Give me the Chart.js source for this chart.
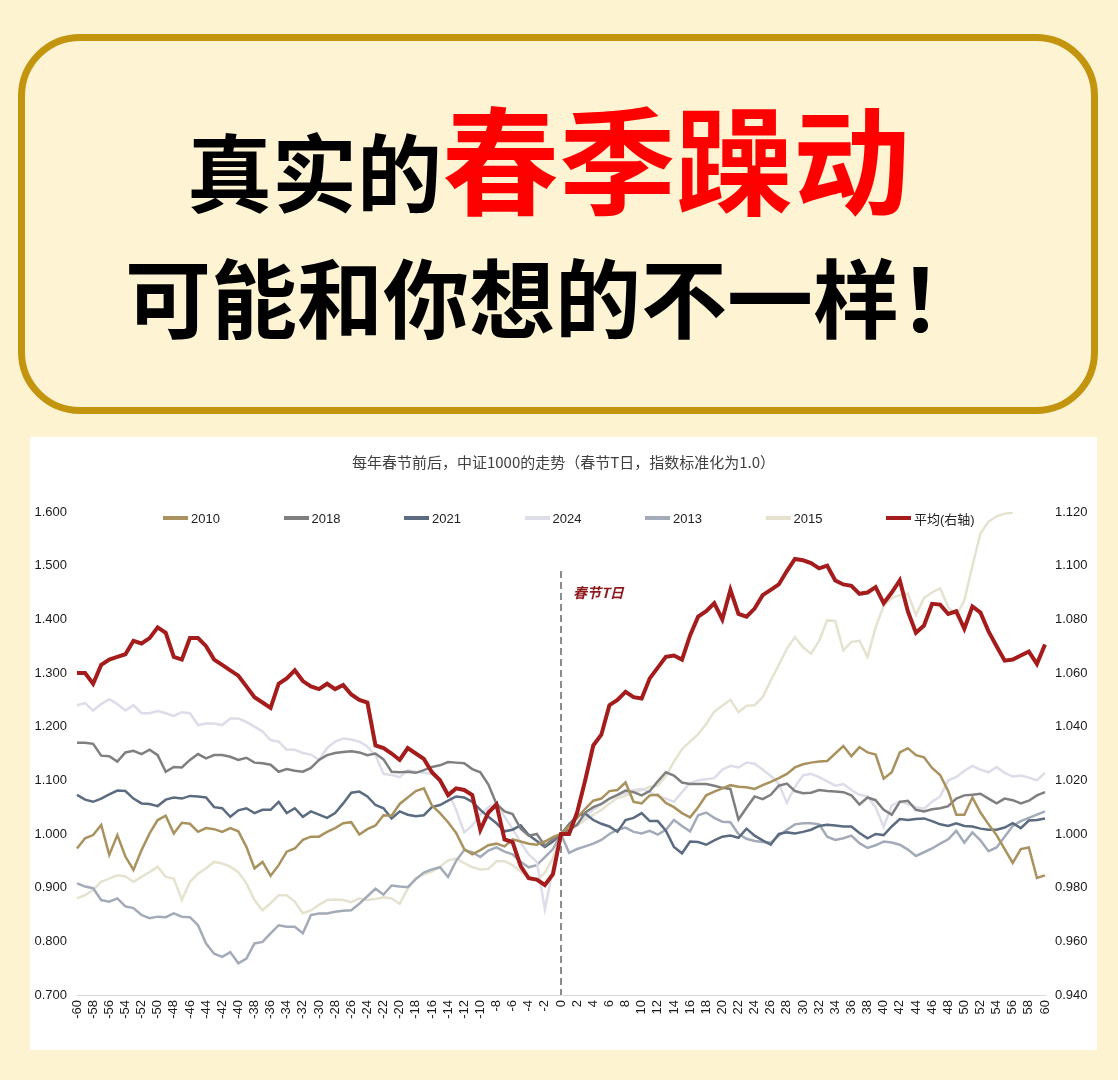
<!DOCTYPE html>
<html>
<head>
<meta charset="utf-8">
<title>真实的春季躁动</title>
<script src="https://cdn.jsdelivr.net/npm/chart.js@4.4.1/dist/chart.umd.min.js"></script>
<style>
    body {
        margin: 0;
        width: 1118px;
        height: 1080px;
        position: relative;
        overflow: hidden;
        background: #fdf3d1;
        font-family: "Noto Sans CJK SC", sans-serif;
    }
    .banner {
        position: absolute;
        left: 18px;
        top: 34px;
        width: 1066px;
        height: 366px;
        border: 7px solid #c3950f;
        border-radius: 62px;
        background: #fef4d4;
    }
    .line1, .line2 {
        position: absolute;
        white-space: nowrap;
        line-height: 1;
        font-weight: 700;
        color: #000;
    }
    .line1 { left: 187px; top: 97px; font-size: 117px; }
    .line1 .black { font-size: 85px; }
    .line1 .red { color: #ff0000; }
    .line2 { left: 125px; top: 252px; font-size: 86px; }

    .panel {
        position: absolute;
        left: 30px;
        top: 437px;
        width: 1067px;
        height: 613px;
        background: #ffffff;
    }
    #legend {
        position: absolute;
        left: 133px;
        top: 72px;
        height: 18px;
        display: flex;
        align-items: center;
    }
    #legend .item {
        width: 120.5px;
        display: flex;
        align-items: center;
        font-family: "Liberation Sans", Arial, "Noto Sans CJK SC", sans-serif;
        font-size: 13px;
        color: #222;
    }
    #legend .swatch {
        display: inline-block;
        width: 25px;
        height: 3.5px;
        margin-right: 3px;
    }
</style>
</head>
<body>
    <div class="banner"></div>
    <div class="line1"><span class="black">真实的</span><span class="red">春季躁动</span></div>
    <div class="line2">可能和你想的不一样！</div>

    <div class="panel">
        <canvas id="springChart"></canvas>
        <div id="legend"></div>
    </div>

    <script>
        // trading days around the Spring Festival (T day = 0)
        const days = [-60, -59, -58, -57, -56, -55, -54, -53, -52, -51, -50, -49, -48, -47, -46, -45, -44, -43, -42, -41,
            -40, -39, -38, -37, -36, -35, -34, -33, -32, -31, -30, -29, -28, -27, -26, -25, -24, -23, -22, -21,
            -20, -19, -18, -17, -16, -15, -14, -13, -12, -11, -10, -9, -8, -7, -6, -5, -4, -3, -2, -1,
            0, 1, 2, 3, 4, 5, 6, 7, 8, 9, 10, 11, 12, 13, 14, 15, 16, 17, 18, 19, 20,
            21, 22, 23, 24, 25, 26, 27, 28, 29, 30, 31, 32, 33, 34, 35, 36, 37, 38, 39, 40,
            41, 42, 43, 44, 45, 46, 47, 48, 49, 50, 51, 52, 53, 54, 55, 56, 57, 58, 59, 60];

        const s2010 = [0.973, 0.992, 0.998, 1.017, 0.961, 0.998, 0.958, 0.933, 0.970, 1.001,
            1.026, 1.034, 1.001, 1.021, 1.019, 1.004, 1.011, 1.009, 1.004, 1.011,
            1.005, 0.976, 0.936, 0.948, 0.922, 0.942, 0.967, 0.973, 0.989, 0.995,
            0.995, 1.004, 1.011, 1.020, 1.022, 0.999, 1.009, 1.016, 1.035, 1.034,
            1.056, 1.068, 1.080, 1.085, 1.053, 1.039, 1.022, 1.002, 0.972, 0.962,
            0.970, 0.979, 0.982, 0.977, 0.990, 0.986, 0.982, 0.980, 0.986, 0.994,
            1.000,
            1.015, 1.030, 1.047, 1.062, 1.066, 1.080, 1.082, 1.096, 1.060, 1.057,
            1.072, 1.073, 1.058, 1.050, 1.039, 1.031, 1.050, 1.072, 1.079, 1.085,
            1.091, 1.088, 1.087, 1.084, 1.091, 1.097, 1.104, 1.112, 1.124, 1.130,
            1.133, 1.135, 1.136, 1.150, 1.164, 1.145, 1.162, 1.152, 1.148, 1.103,
            1.115, 1.152, 1.160, 1.147, 1.143, 1.123, 1.110, 1.080, 1.036, 1.036,
            1.068, 1.040, 1.018, 0.998, 0.972, 0.946, 0.972, 0.975, 0.918, 0.923];

        const s2018 = [1.170, 1.170, 1.168, 1.146, 1.145, 1.135, 1.152, 1.155, 1.149, 1.157,
            1.147, 1.116, 1.125, 1.124, 1.138, 1.149, 1.141, 1.147, 1.147, 1.144,
            1.138, 1.142, 1.133, 1.132, 1.129, 1.116, 1.121, 1.118, 1.116, 1.123,
            1.138, 1.147, 1.151, 1.153, 1.154, 1.152, 1.147, 1.150, 1.139, 1.116,
            1.115, 1.116, 1.114, 1.119, 1.125, 1.128, 1.134, 1.133, 1.132, 1.121,
            1.115, 1.092, 1.056, 1.042, 1.037, 1.010, 0.997, 1.000, 0.978, 0.990,
            1.000,
            1.008, 1.017, 1.040, 1.050, 1.056, 1.066, 1.073, 1.081, 1.078, 1.072,
            1.080, 1.098, 1.115, 1.109, 1.096, 1.093, 1.093, 1.093, 1.090, 1.086,
            1.084, 1.027, 1.049, 1.070, 1.065, 1.073, 1.090, 1.094, 1.080, 1.076,
            1.077, 1.082, 1.080, 1.079, 1.078, 1.072, 1.055, 1.068, 1.063, 1.045,
            1.036, 1.060, 1.062, 1.045, 1.042, 1.046, 1.048, 1.052, 1.066, 1.072,
            1.073, 1.075, 1.066, 1.057, 1.066, 1.063, 1.057, 1.062, 1.072, 1.078];

        const s2021 = [1.073, 1.064, 1.060, 1.066, 1.074, 1.081, 1.080, 1.066, 1.057, 1.056,
            1.052, 1.064, 1.068, 1.066, 1.071, 1.070, 1.068, 1.050, 1.048, 1.032,
            1.044, 1.048, 1.039, 1.045, 1.045, 1.060, 1.039, 1.048, 1.032, 1.042,
            1.036, 1.030, 1.039, 1.057, 1.077, 1.079, 1.070, 1.054, 1.048, 1.029,
            1.042, 1.036, 1.033, 1.035, 1.050, 1.054, 1.062, 1.070, 1.068, 1.060,
            1.045, 1.032, 1.020, 1.005, 1.008, 1.016, 0.998, 0.987, 0.976, 0.986,
            1.000,
            1.018, 1.034, 1.038, 1.026, 1.019, 1.014, 1.004, 1.026, 1.030, 1.039,
            1.024, 1.024, 1.006, 0.976, 0.964, 0.986, 0.985, 0.980, 0.988, 0.995,
            0.997, 0.993, 1.010, 0.997, 0.988, 0.980, 1.000, 1.003, 1.001, 1.004,
            1.008, 1.015, 1.017, 1.016, 1.014, 1.014, 1.002, 0.992, 1.000, 0.998,
            1.014, 1.028, 1.026, 1.028, 1.029, 1.024, 1.018, 1.015, 1.020, 1.015,
            1.014, 1.010, 1.008, 1.008, 1.012, 1.020, 1.011, 1.025, 1.026, 1.029];

        const s2024 = [1.240, 1.244, 1.230, 1.242, 1.251, 1.242, 1.230, 1.240, 1.225, 1.225,
            1.229, 1.225, 1.220, 1.227, 1.225, 1.203, 1.206, 1.206, 1.203, 1.215,
            1.215, 1.209, 1.200, 1.191, 1.175, 1.172, 1.157, 1.157, 1.151, 1.148,
            1.138, 1.160, 1.172, 1.178, 1.176, 1.172, 1.163, 1.147, 1.112, 1.110,
            1.106, 1.119, 1.116, 1.114, 1.112, 1.101, 1.078, 1.045, 1.003, 1.016,
            1.036, 1.050, 1.058, 1.032, 1.010, 0.984, 0.962, 0.948, 0.860, 0.935,
            1.000,
            1.005, 1.020, 1.032, 1.045, 1.055, 1.065, 1.072, 1.076, 1.082, 1.084,
            1.078, 1.070, 1.066, 1.060, 1.078, 1.095, 1.100, 1.102, 1.104, 1.120,
            1.127, 1.124, 1.133, 1.131, 1.120, 1.108, 1.094, 1.058, 1.088, 1.109,
            1.112, 1.106, 1.098, 1.090, 1.093, 1.082, 1.073, 1.070, 1.050, 1.013,
            1.053, 1.061, 1.056, 1.050, 1.047, 1.060, 1.070, 1.100, 1.106, 1.118,
            1.127, 1.120, 1.115, 1.125, 1.114, 1.107, 1.109, 1.105, 1.100, 1.114];

        const s2013 = [0.908, 0.902, 0.899, 0.877, 0.874, 0.880, 0.865, 0.862, 0.849, 0.843,
            0.846, 0.845, 0.852, 0.846, 0.845, 0.830, 0.796, 0.777, 0.771, 0.780,
            0.759, 0.768, 0.796, 0.799, 0.815, 0.830, 0.827, 0.827, 0.815, 0.849,
            0.852, 0.852, 0.855, 0.857, 0.858, 0.870, 0.884, 0.898, 0.887, 0.904,
            0.902, 0.901, 0.916, 0.928, 0.934, 0.938, 0.920, 0.950, 0.970, 0.966,
            0.957, 0.969, 0.975, 0.967, 0.962, 0.948, 0.938, 0.942, 0.957, 0.972,
            1.000,
            0.965, 0.972, 0.977, 0.982, 0.989, 1.000, 1.008, 1.012, 1.004, 1.001,
            1.006, 0.999, 1.008, 1.026, 1.015, 1.005, 1.035, 1.040, 1.030, 1.023,
            1.022, 1.000, 0.991, 0.987, 0.985, 0.984, 0.997, 1.008, 1.018, 1.020,
            1.020, 1.018, 0.995, 0.989, 0.992, 0.997, 0.983, 0.974, 0.979, 0.986,
            0.984, 0.980, 0.971, 0.959, 0.966, 0.973, 0.982, 0.990, 1.006, 0.984,
            1.003, 0.988, 0.968, 0.975, 0.995, 1.015, 1.024, 1.030, 1.036, 1.042];

        // 2015 runs off the top of the axis after day 56
        const s2015 = [0.880, 0.886, 0.896, 0.911, 0.917, 0.923, 0.921, 0.911, 0.920, 0.929,
            0.939, 0.920, 0.917, 0.877, 0.911, 0.926, 0.936, 0.948, 0.945, 0.939,
            0.929, 0.908, 0.877, 0.858, 0.871, 0.886, 0.886, 0.874, 0.852, 0.858,
            0.868, 0.877, 0.878, 0.877, 0.873, 0.880, 0.877, 0.879, 0.882, 0.880,
            0.870, 0.898, 0.918, 0.925, 0.930, 0.939, 0.951, 0.954, 0.946, 0.938,
            0.934, 0.935, 0.949, 0.949, 0.942, 0.930, 0.920, 0.915, 0.928, 0.955,
            1.000,
            1.006, 1.016, 1.026, 1.036, 1.045, 1.057, 1.067, 1.071, 1.077, 1.082,
            1.088, 1.090, 1.108, 1.135, 1.158, 1.172, 1.186, 1.205, 1.228, 1.239,
            1.250, 1.227, 1.239, 1.240, 1.255, 1.286, 1.315, 1.345, 1.367, 1.348,
            1.336, 1.360, 1.398, 1.397, 1.342, 1.358, 1.360, 1.330, 1.385, 1.425,
            1.440, 1.445, 1.448, 1.408, 1.440, 1.450, 1.458, 1.423, 1.407, 1.435,
            1.500, 1.560, 1.582, 1.592, 1.597, 1.599, null, null, null, null];

        // average of all years, plotted on the right axis
        const sAvg = [1.060, 1.060, 1.056, 1.063, 1.065, 1.066, 1.067, 1.072, 1.071, 1.073,
            1.077, 1.075, 1.066, 1.065, 1.073, 1.073, 1.070, 1.065, 1.063, 1.061,
            1.059, 1.055, 1.051, 1.049, 1.047, 1.056, 1.058, 1.061, 1.057, 1.055,
            1.054, 1.056, 1.054, 1.0555, 1.052, 1.050, 1.049, 1.033, 1.032, 1.030,
            1.0276, 1.032, 1.030, 1.028, 1.023, 1.020, 1.0145, 1.017, 1.0164, 1.0145,
            1.0015, 1.008, 1.011, 0.998, 0.997, 0.988, 0.9835, 0.983, 0.981, 0.985,
            1.000,
            1.000, 1.008, 1.020, 1.033, 1.037, 1.048, 1.050, 1.053, 1.051, 1.0505,
            1.058, 1.062, 1.066, 1.0665, 1.065, 1.074, 1.081, 1.083, 1.086, 1.080,
            1.091, 1.082, 1.081, 1.084, 1.089, 1.091, 1.093, 1.098, 1.1025, 1.102,
            1.101, 1.099, 1.100, 1.0945, 1.093, 1.0925, 1.0895, 1.090, 1.092, 1.086,
            1.090, 1.0945, 1.083, 1.075, 1.0777, 1.0858, 1.0855, 1.082, 1.083, 1.0765,
            1.0848, 1.0825, 1.0755, 1.070, 1.0646, 1.065, 1.0665, 1.068, 1.0634, 1.0706];

        const seriesNames = ['2010', '2018', '2021', '2024', '2013', '2015', '平均(右轴)'];
        const seriesColors = ['#a9925e', '#7f7f7f', '#5b6b80', '#dcdde8', '#a3abb9', '#e5e3cf', '#a51c1c'];

        // dashed T-day marker: its top and the label height, in left-axis units
        const markerDay = 0;
        const markerTop = 1.49;
        const markerLabel = '春节T日';
        const markerLabelAt = 1.45;

        const springMarker = {
            id: 'springMarker',
            beforeDatasetsDraw(chart) {
                const { ctx, scales } = chart;
                const x = scales.x.getPixelForValue(days.indexOf(markerDay));
                const top = scales.y.getPixelForValue(markerTop);
                ctx.save();
                ctx.strokeStyle = '#8c8c8c';
                ctx.lineWidth = 2;
                ctx.setLineDash([7, 4]);
                ctx.beginPath();
                ctx.moveTo(x, top);
                ctx.lineTo(x, chart.chartArea.bottom);
                ctx.stroke();
                ctx.setLineDash([]);
                ctx.fillStyle = '#8e1b1b';
                ctx.font = 'italic bold 14px "Noto Sans CJK SC"';
                ctx.textBaseline = 'middle';
                ctx.fillText(markerLabel, x + 12, scales.y.getPixelForValue(markerLabelAt));
                ctx.restore();
            }
        };

        const yearData = [s2010, s2018, s2021, s2024, s2013, s2015];
        const datasets = yearData.map((vals, i) => ({
            label: seriesNames[i],
            data: vals,
            borderColor: seriesColors[i],
            backgroundColor: seriesColors[i],
            borderWidth: 2.5,
            pointRadius: 0,
            tension: 0,
            yAxisID: 'y',
            order: 1
        }));
        datasets.push({
            label: seriesNames[6],
            data: sAvg,
            borderColor: seriesColors[6],
            backgroundColor: seriesColors[6],
            borderWidth: 4,
            pointRadius: 0,
            tension: 0,
            yAxisID: 'y1',
            order: 0
        });

        const tickFont = { family: '"Liberation Sans", Arial, sans-serif', size: 13 };

        const ctx = document.getElementById('springChart').getContext('2d');
        const springChart = new Chart(ctx, {
            type: 'line',
            data: { labels: days, datasets: datasets },
            options: {
                responsive: true,
                maintainAspectRatio: false,
                animation: false,
                layout: { padding: 0 },
                plugins: {
                    legend: { display: false },
                    tooltip: { enabled: false },
                    title: {
                        display: true,
                        text: '每年春节前后，中证1000的走势（春节T日，指数标准化为1.0）',
                        color: '#404040',
                        font: { family: '"Noto Sans CJK SC"', size: 15, weight: 'normal' },
                        padding: { top: 16, bottom: 41 }
                    }
                },
                scales: {
                    x: {
                        grid: { display: false, drawTicks: false },
                        border: { display: true, color: '#d9d9d9', width: 1 },
                        ticks: {
                            autoSkip: false,
                            minRotation: 90,
                            maxRotation: 90,
                            padding: 5,
                            color: '#1a1a1a',
                            font: { family: '"Liberation Sans", Arial, sans-serif', size: 13 },
                            callback: (value, index) => (days[index] % 2 === 0 ? String(days[index]) : null)
                        },
                        afterFit: (axis) => { axis.height = 55; }
                    },
                    y: {
                        position: 'left',
                        min: 0.7,
                        max: 1.6,
                        grid: { display: false, drawTicks: false },
                        border: { display: false },
                        ticks: {
                            stepSize: 0.1,
                            padding: 10,
                            color: '#1a1a1a',
                            font: tickFont,
                            callback: (v) => v.toFixed(3)
                        },
                        afterFit: (axis) => { axis.width = 47; }
                    },
                    y1: {
                        position: 'right',
                        min: 0.94,
                        max: 1.12,
                        grid: { display: false, drawTicks: false },
                        border: { display: false },
                        ticks: {
                            stepSize: 0.02,
                            padding: 10,
                            color: '#1a1a1a',
                            font: tickFont,
                            callback: (v) => v.toFixed(3)
                        },
                        afterFit: (axis) => { axis.width = 52; }
                    }
                }
            },
            plugins: [springMarker]
        });

        // legend row, built from the chart's own datasets
        const legendBox = document.getElementById('legend');
        springChart.data.datasets.forEach((ds) => {
            const item = document.createElement('div');
            item.className = 'item';
            const swatch = document.createElement('span');
            swatch.className = 'swatch';
            swatch.style.background = ds.borderColor;
            const text = document.createElement('span');
            text.textContent = ds.label;
            item.appendChild(swatch);
            item.appendChild(text);
            legendBox.appendChild(item);
        });
    </script>
</body>
</html>
